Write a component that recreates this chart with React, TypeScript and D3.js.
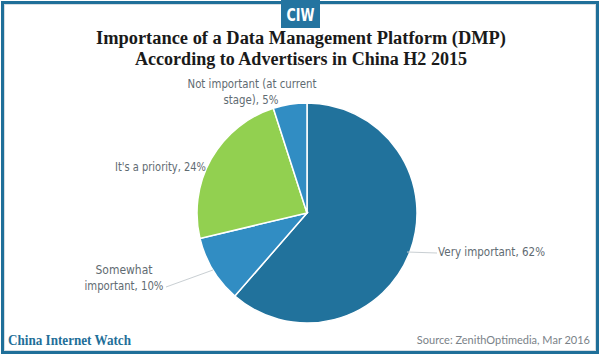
import React from "react";
import * as d3 from "d3";

const categories = ["Very important", "Somewhat important", "It's a priority", "Not important (at current stage)"];
const values = [62, 10, 24, 5];
const colors = ["#21729c", "#318dc3", "#92d050", "#318dc3"];

const W = 600;
const H = 355;
const cx = 307;
const cy = 213;
const R = 110;

export default function App() {
  const pie = d3.pie<number>().value((d) => d).sort(null);
  const arcs = pie(values);
  const arc = d3.arc<d3.PieArcDatum<number>>().innerRadius(0).outerRadius(R);

  const labelFont = "'DejaVu Sans', 'Noto Sans', sans-serif";
  const labelColor = "#5f6b72";
  const la = "spacingAndGlyphs" as const;

  return (
    <svg width={W} height={H} style={{ position: "fixed", left: 0, top: 0, background: "#fff" }}>
      <rect x={0} y={0} width={W} height={H} fill="#fff" />
      {/* frame */}
      <rect x={2.5} y={2.5} width={W - 5} height={H - 5} fill="none" stroke="#1f6f99" strokeWidth={3} />
      <rect x={4.5} y={4.5} width={W - 9} height={H - 9} fill="none" stroke="#d6dde2" strokeWidth={1} />
      {/* logo */}
      <rect x={281} y={0} width={39} height={28} fill="#2474a0" />
      <text x={300.5} y={21} textAnchor="middle" fill="#fff" fontFamily="'Liberation Sans Narrow', 'DejaVu Sans Condensed', sans-serif" fontWeight="bold" fontSize={17} textLength={28} lengthAdjust={la}>CIW</text>
      {/* title */}
      <g fill="#1a1a1a" fontFamily="'Liberation Serif', serif" fontWeight="bold" fontSize={18}>
        <text x={301} y={44} textAnchor="middle" textLength={410} lengthAdjust={la}>Importance of a Data Management Platform (DMP)</text>
        <text x={301} y={65} textAnchor="middle" textLength={332} lengthAdjust={la}>According to Advertisers in China H2 2015</text>
      </g>

      {/* pie */}
      <g transform={`translate(${cx},${cy})`}>
        {arcs.map((a, i) => (
          <path key={categories[i]} d={arc(a) || ""} fill={colors[i]} stroke="#fff" strokeWidth={1.5} />
        ))}
      </g>

      {/* leader lines */}
      <polyline points="407,252 437,253" fill="none" stroke="#c9cfd3" strokeWidth={1} />
      <polyline points="166,287 213,270" fill="none" stroke="#c9cfd3" strokeWidth={1} />

      {/* labels */}
      <g fontFamily={labelFont} fontSize={11.5} fill={labelColor}>
        <text x={438} y={256} textLength={107} lengthAdjust={la}>{`${categories[0]}, ${values[0]}%`}</text>
        <text x={124} y={274} textAnchor="middle" textLength={57} lengthAdjust={la}>Somewhat</text>
        <text x={124} y={290} textAnchor="middle" textLength={79} lengthAdjust={la}>{`important, ${values[1]}%`}</text>
        <text x={206} y={171} textAnchor="end" textLength={91} lengthAdjust={la}>{`${categories[2]}, ${values[2]}%`}</text>
        <text x={252} y={88} textAnchor="middle" textLength={129} lengthAdjust={la}>Not important (at current</text>
        <text x={251} y={104} textAnchor="middle" textLength={55} lengthAdjust={la}>{`stage), ${values[3]}%`}</text>
      </g>

      {/* footer */}
      <text x={8} y={345} fill="#1f6f99" fontFamily="'Liberation Serif', serif" fontWeight="bold" fontSize={14} textLength={123} lengthAdjust={la}>China Internet Watch</text>
      <text x={590} y={344} textAnchor="end" fill="#7a8288" fontFamily="'Lato', sans-serif" fontSize={11}>Source: ZenithOptimedia, Mar 2016</text>
    </svg>
  );
}
